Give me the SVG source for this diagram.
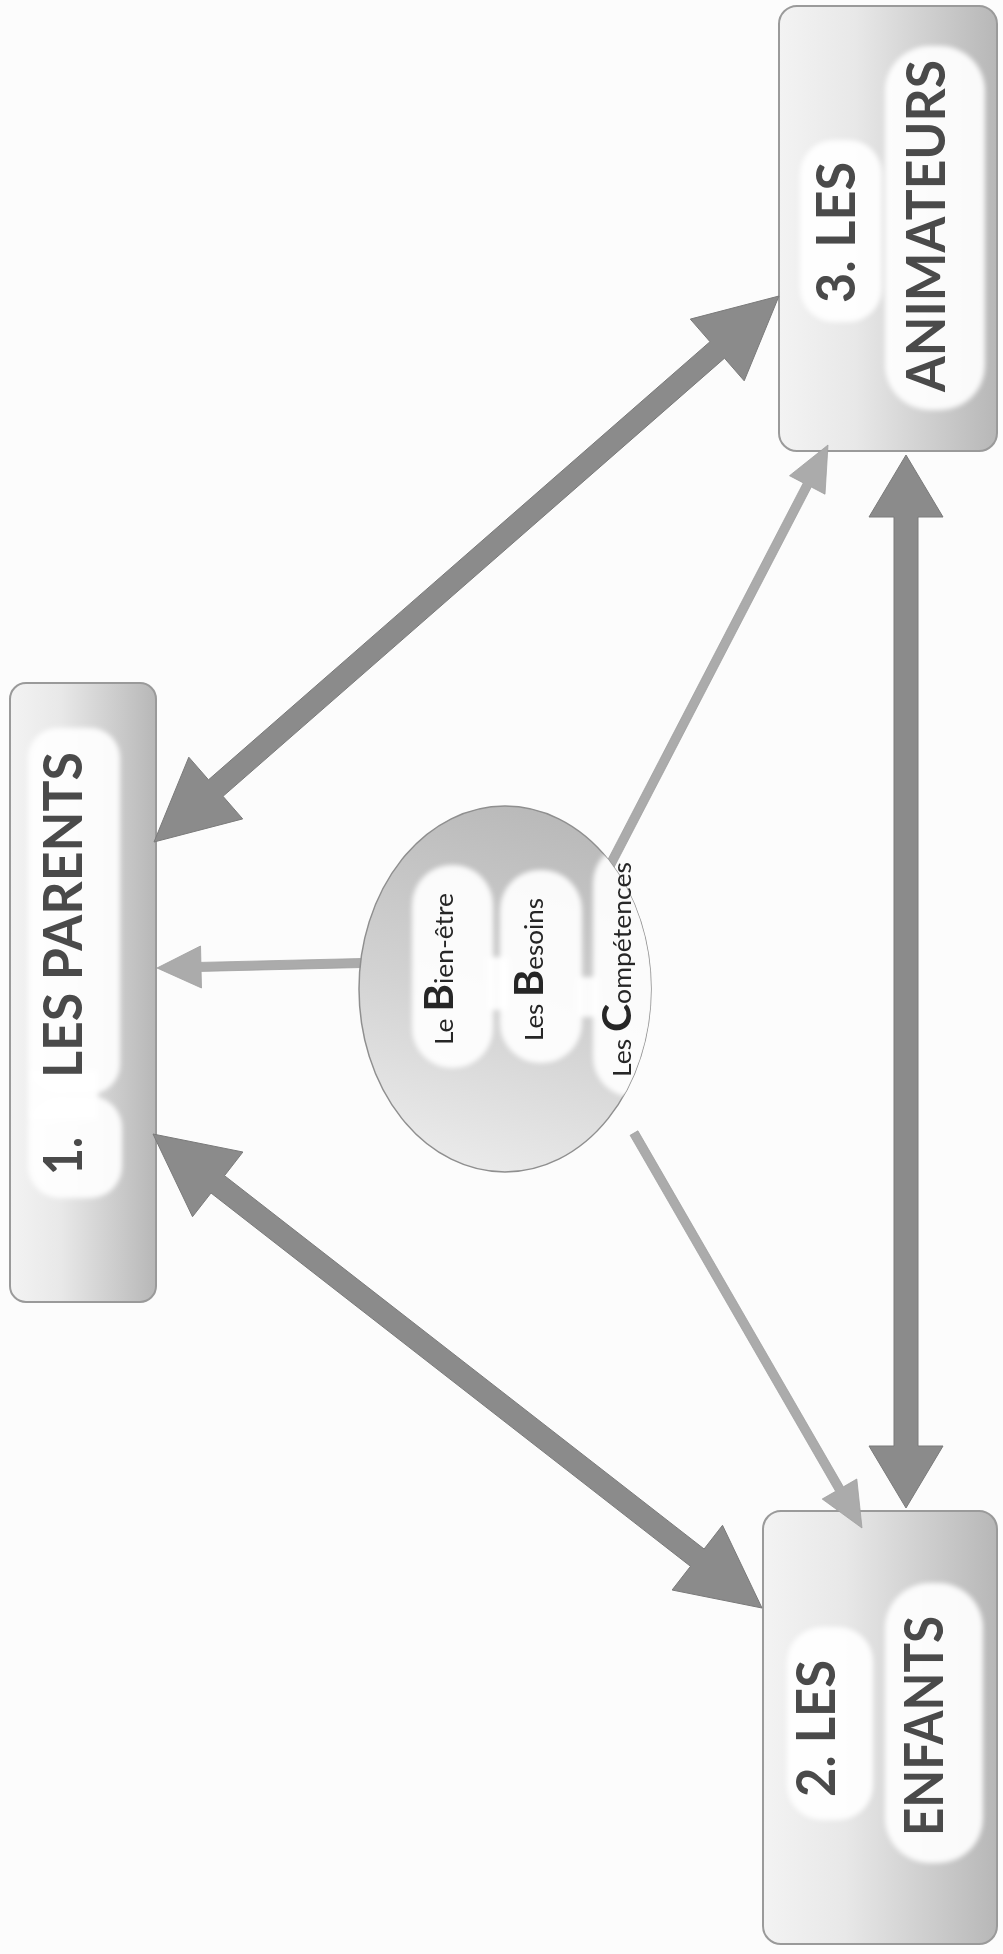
<svg xmlns="http://www.w3.org/2000/svg" width="1003" height="1954" viewBox="0 0 1003 1954">
<defs>
<style>
.box{stroke:#9a9a9a;stroke-width:2}
.title{font-family:Lato,"Liberation Sans",sans-serif;font-weight:bold;font-size:53px;fill:#4a4a4a}
.ctext{font-family:Lato,"Liberation Sans",sans-serif;font-size:25px;fill:#262626}
.big{font-weight:bold;font-size:40px}
.blob{fill:#ffffff;opacity:0.92}
.arrow-big{fill:#8b8b8b;stroke:#7a7a7a;stroke-width:1}
.arrow-thin{fill:#ababab;stroke:#a0a0a0;stroke-width:0.8}
</style>
<linearGradient id="boxg" x1="0" y1="0" x2="1" y2="0">
<stop offset="0" stop-color="#f3f3f3"/>
<stop offset="0.35" stop-color="#e8e8e8"/>
<stop offset="0.7" stop-color="#cecece"/>
<stop offset="1" stop-color="#b7b7b7"/>
</linearGradient>
<linearGradient id="circg" x1="0.6" y1="0" x2="0.35" y2="1">
<stop offset="0" stop-color="#b9b9b9"/>
<stop offset="0.55" stop-color="#d2d2d2"/>
<stop offset="1" stop-color="#ebebeb"/>
</linearGradient>
<filter id="soft" x="-10%" y="-10%" width="120%" height="120%">
<feGaussianBlur stdDeviation="2.5"/>
</filter>
<clipPath id="circclip"><ellipse cx="505" cy="989" rx="146" ry="183"/></clipPath>
</defs>
<rect x="0" y="0" width="1003" height="1954" fill="#fcfcfc"/>

<g id="parents">
<rect class="box" x="10" y="683" width="146" height="619" rx="16" fill="url(#boxg)"/>
<g filter="url(#soft)">
<rect class="blob" x="28" y="728" width="92" height="366" rx="30"/>
<rect class="blob" x="28" y="1096" width="94" height="102" rx="32"/>
<rect class="blob" x="28" y="1070" width="70" height="50"/>
</g>
<text class="title" transform="translate(82,1175) rotate(-90)" textLength="38" lengthAdjust="spacingAndGlyphs">1.</text>
<text class="title" transform="translate(82,1078) rotate(-90)" textLength="326" lengthAdjust="spacingAndGlyphs">LES PARENTS</text>
</g>

<g id="animateurs">
<rect class="box" x="779" y="6" width="218" height="445" rx="18" fill="url(#boxg)"/>
<g filter="url(#soft)">
<rect class="blob" x="800" y="140" width="82" height="182" rx="34"/>
<rect class="blob" x="885" y="46" width="100" height="364" rx="45"/>
</g>
<text class="title" transform="translate(855,303) rotate(-90)" textLength="141" lengthAdjust="spacingAndGlyphs">3. LES</text>
<text class="title" transform="translate(945,392) rotate(-90)" textLength="332" lengthAdjust="spacingAndGlyphs">ANIMATEURS</text>
</g>

<g id="enfants">
<rect class="box" x="763" y="1511" width="234" height="433" rx="18" fill="url(#boxg)"/>
<g filter="url(#soft)">
<rect class="blob" x="787" y="1627" width="86" height="193" rx="35"/>
<rect class="blob" x="885" y="1583" width="98" height="280" rx="45"/>
</g>
<text class="title" transform="translate(835,1797) rotate(-90)" textLength="137" lengthAdjust="spacingAndGlyphs">2. LES</text>
<text class="title" transform="translate(943,1836) rotate(-90)" textLength="220" lengthAdjust="spacingAndGlyphs">ENFANTS</text>
</g>

<g id="connectors">
<polygon id="arrow-parents-animateurs" class="arrow-big" points="154,842 242.7,818.9 223.0,796.3 724.5,358.2 744.2,380.8 779,296 690.3,319.1 710.0,341.7 208.5,779.8 188.8,757.2"/>
<polygon id="arrow-parents-enfants" class="arrow-big" points="153,1134 242.9,1152.0 224.5,1175.7 704.1,1549.0 722.5,1525.3 762,1608 672.1,1590.0 690.5,1566.3 211.0,1193.0 192.5,1216.7"/>
<polygon id="arrow-animateurs-enfants" class="arrow-big" points="906,455 943,517 918,517 918,1446 943,1446 906,1508 869,1446 894,1446 894,517 869,517"/>
<polygon id="arrow-centre-parents" class="arrow-thin" points="361.9,958.5 200.9,962.4 200.5,946.0 157,968 201.5,988.0 201.1,971.4 362.1,967.5"/>
<polygon id="arrow-centre-animateurs" class="arrow-thin" points="609.0,877.1 811.3,487.0 825.0,494.2 828,445 789.5,475.7 803.3,482.9 601.0,872.9"/>
<polygon id="arrow-centre-enfants" class="arrow-thin" points="637.9,1130.8 843.4,1486.8 856.8,1479.0 862,1528 822.2,1499.0 835.6,1491.3 630.1,1135.3"/>
</g>

<g id="centre">
<ellipse cx="505" cy="989" rx="146" ry="183" fill="url(#circg)" stroke="#8f8f8f" stroke-width="1.5"/>
<g clip-path="url(#circclip)">
<g filter="url(#soft)">
<rect class="blob" x="412" y="865" width="81" height="203" rx="40"/>
<rect class="blob" x="500" y="870" width="82" height="193" rx="40"/>
<rect class="blob" x="593" y="843" width="80" height="254" rx="40"/>
<rect class="blob" x="488" y="957" width="20" height="53"/>
<rect class="blob" x="578" y="977" width="20" height="40"/>
</g>
</g>
<text class="ctext" transform="translate(453,1045) rotate(-90)" textLength="152" lengthAdjust="spacingAndGlyphs">Le <tspan class="big">B</tspan>ien-être</text>
<text class="ctext" transform="translate(543,1041) rotate(-90)" textLength="143" lengthAdjust="spacingAndGlyphs">Les <tspan class="big">B</tspan>esoins</text>
<text class="ctext" transform="translate(631,1077) rotate(-90)" textLength="215" lengthAdjust="spacingAndGlyphs">Les <tspan class="big">C</tspan>ompétences</text>
</g>
</svg>
